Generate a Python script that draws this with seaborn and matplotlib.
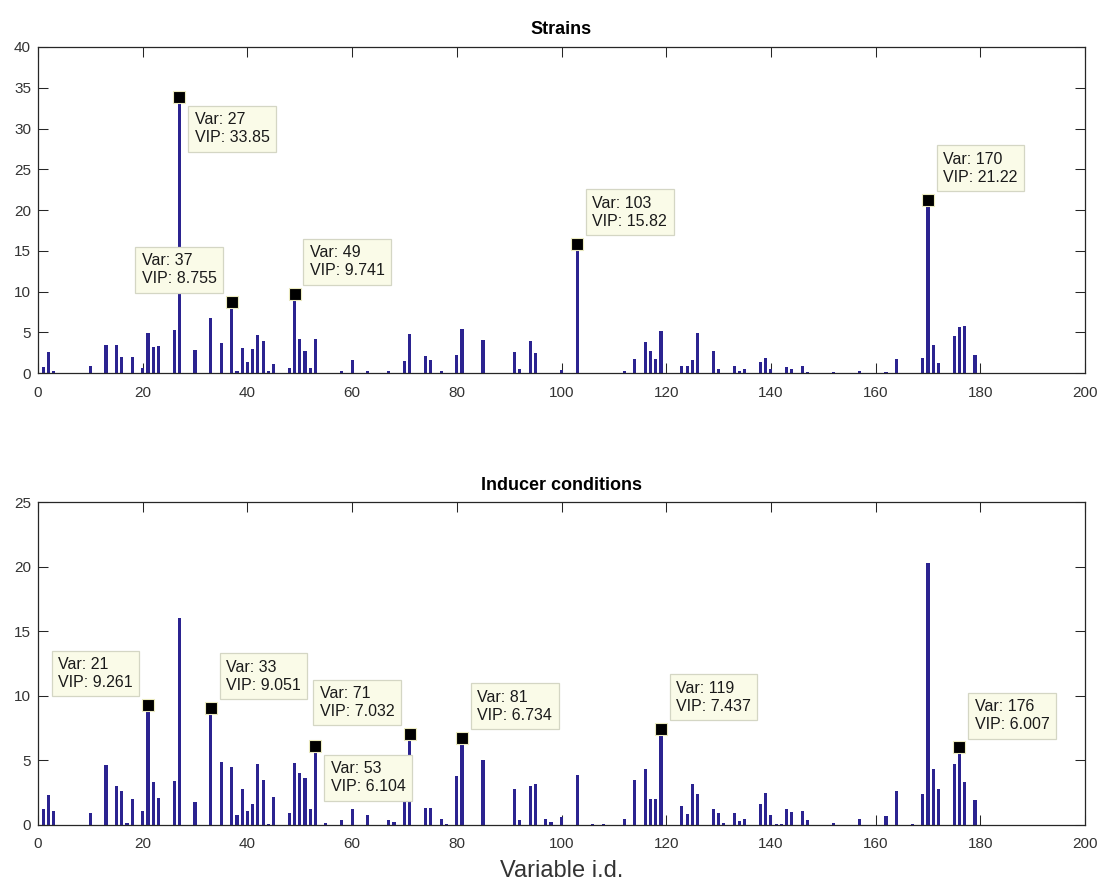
import matplotlib
matplotlib.use('Agg')
import matplotlib.pyplot as plt
import seaborn as sns
import pandas as pd
import numpy as np

# --- DATA ---
strain_ids = [1, 2, 3, 10, 13, 15, 16, 18, 20, 21, 22, 23, 26, 27, 30, 33, 35, 37, 38, 39,
              40, 41, 42, 43, 44, 45, 48, 49, 50, 51, 52, 53, 55, 58, 60, 63, 67, 70, 71, 74,
              75, 77, 80, 81, 85, 91, 92, 94, 95, 100, 103, 112, 114, 116, 117, 118, 119, 123, 124, 125,
              126, 129, 130, 133, 134, 135, 138, 139, 140, 143, 144, 146, 147, 152, 157, 162, 164, 169, 170, 171,
              172, 175, 176, 177, 179]
strain_vip = [0.7, 2.6, 0.3, 0.9, 3.4, 3.45, 2.0, 1.95, 0.65, 4.9, 3.2, 3.3, 5.3, 33.85, 2.8, 6.75, 3.7, 8.755, 0.3, 3.1,
              1.4, 2.9, 4.7, 3.9, 0.25, 1.1, 0.6, 9.741, 4.2, 2.7, 0.65, 4.2, 0.05, 0.25, 1.65, 0.3, 0.3, 1.5, 4.8, 2.1,
              1.55, 0.2, 2.2, 5.35, 4.0, 2.6, 0.5, 3.95, 2.45, 0.4, 15.82, 0.2, 1.75, 3.8, 2.7, 1.7, 5.2, 0.8, 0.8, 1.65,
              4.9, 2.7, 0.5, 0.8, 0.25, 0.55, 1.35, 1.85, 0.5, 0.75, 0.5, 0.8, 0.15, 0.1, 0.2, 0.1, 1.7, 1.9, 21.22, 3.4,
              1.25, 4.5, 5.6, 5.75, 2.2]

inducer_ids = [1, 2, 3, 10, 13, 15, 16, 17, 18, 20, 21, 22, 23, 26, 27, 30, 33, 35, 37, 38,
               39, 40, 41, 42, 43, 44, 45, 48, 49, 50, 51, 52, 53, 55, 58, 60, 63, 67, 68, 70,
               71, 74, 75, 77, 78, 80, 81, 85, 91, 92, 94, 95, 97, 98, 100, 103, 106, 108, 112, 114,
               116, 117, 118, 119, 123, 124, 125, 126, 129, 130, 131, 133, 134, 135, 138, 139, 140, 141, 142, 143,
               144, 146, 147, 152, 157, 162, 164, 167, 169, 170, 171, 172, 175, 176, 177, 179]
inducer_vip = [1.2, 2.35, 1.1, 0.9, 4.65, 3.0, 2.6, 0.15, 2.0, 1.1, 9.261, 3.3, 2.1, 3.4, 16.0, 1.75, 9.051, 4.87, 4.5, 0.8,
               2.8, 1.05, 1.6, 4.7, 3.5, 0.1, 2.2, 0.9, 4.8, 4.0, 3.6, 1.25, 6.104, 0.12, 0.35, 1.25, 0.75, 0.4, 0.2, 2.5,
               7.032, 1.3, 1.3, 0.45, 0.1, 3.8, 6.734, 5.0, 2.75, 0.35, 3.05, 3.2, 0.5, 0.2, 0.65, 3.9, 0.1, 0.08, 0.45, 3.45,
               4.35, 2.0, 2.0, 7.437, 1.45, 0.85, 3.2, 2.4, 1.25, 0.9, 0.15, 0.95, 0.3, 0.5, 1.6, 2.5, 0.8, 0.1, 0.1, 1.2,
               1.0, 1.1, 0.4, 0.12, 0.5, 0.7, 2.65, 0.1, 2.4, 20.3, 4.35, 2.8, 4.7, 6.007, 3.3, 1.9]

# data tips: variable, label text, box corner direction (dx sign, dy sign)
strain_tips = [(27, '33.85', 1, -1), (37, '8.755', -1, 1), (49, '9.741', 1, 1),
               (103, '15.82', 1, 1), (170, '21.22', 1, 1)]
inducer_tips = [(21, '9.261', -1, 1), (33, '9.051', 1, 1), (71, '7.032', -1, 1), (53, '6.104', 1, -1),
                (81, '6.734', 1, 1), (119, '7.437', 1, 1), (176, '6.007', 1, 1)]

BAR = '#2b2390'
INK = '#262626'

sns.set_style('white')
plt.rcParams['font.family'] = ['Liberation Sans', 'DejaVu Sans']

fig = plt.figure(figsize=(11.01, 8.86), dpi=100)
ax1 = fig.add_axes([38 / 1101, 1 - 373 / 886, 1047 / 1101, 326 / 886])
ax2 = fig.add_axes([38 / 1101, 1 - 825 / 886, 1047 / 1101, 323 / 886])


def draw_panel(ax, ids, vals, tips, ymax, title):
    df = pd.DataFrame({'var': ids, 'vip': vals})
    sns.barplot(data=df, x='var', y='vip', native_scale=True, width=0.6, color=BAR,
                saturation=1, errorbar=None, linewidth=0, ax=ax)
    lookup = dict(zip(ids, vals))
    for v, txt, sx, sy in tips:
        y = lookup[v]
        ax.plot([v], [y], 's', color='k', ms=8.5, mec='#ecebc0', mew=0.8, zorder=5)
        gap = 9 * 0.72 + 4.5
        ax.annotate('Var: %d\nVIP: %s' % (v, txt), xy=(v, y), xytext=(sx * gap, sy * gap),
                    textcoords='offset points', fontsize=11.5, color='#1a1a1a',
                    ha='left' if sx > 0 else 'right', va='bottom' if sy > 0 else 'top',
                    multialignment='left', linespacing=1.25, zorder=6,
                    bbox=dict(boxstyle='square,pad=0.4', fc='#fafbe8', ec='#d4d6c4', lw=0.9))
    ax.set_xlim(0, 200)
    ax.set_ylim(0, ymax)
    ax.set_xticks(np.arange(0, 201, 20))
    ax.set_yticks(np.arange(0, ymax + 1, 5))
    ax.set_xlabel('')
    ax.set_ylabel('')
    ax.set_title(title, fontsize=13, fontweight='bold', color='black', pad=9)
    ax.tick_params(direction='in', length=7, width=0.75, color=INK, labelsize=11,
                   labelcolor='#333333', top=True, right=True, bottom=True, left=True)
    ax.tick_params(axis='x', pad=9)
    ax.tick_params(axis='y', pad=5)
    for s in ax.spines.values():
        s.set_color(INK)
        s.set_linewidth(0.9)


draw_panel(ax1, strain_ids, strain_vip, strain_tips, 40, 'Strains')
draw_panel(ax2, inducer_ids, inducer_vip, inducer_tips, 25, 'Inducer conditions')
ax2.set_xlabel('Variable i.d.', fontsize=17, color='#333333', labelpad=6)

fig.savefig('out.png', dpi=100)
